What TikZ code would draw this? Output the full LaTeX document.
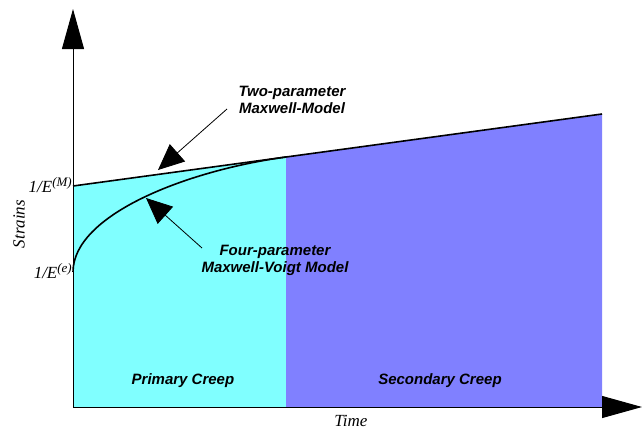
\documentclass[tikz,border=0pt]{standalone}
\usepackage{fontspec}
\setmainfont{Liberation Serif}
\newfontfamily\labfont{Liberation Sans}
\usetikzlibrary{arrows.meta}
\definecolor{primaryc}{HTML}{80FFFF}
\definecolor{secondaryc}{HTML}{8080FF}
% raised superscript in a larger size than \textsuperscript
\newcommand{\supidx}[1]{\raisebox{6pt}{\fontsize{13}{13}\selectfont #1}}
\begin{document}
\begin{tikzpicture}[x=1pt,y=-1pt,
  axis/.style={line width=1pt,-{Triangle[length=40pt,width=22pt]}},
  pointer/.style={line width=0.8pt,-{Triangle[length=26pt,width=23pt]}},
  curveline/.style={line width=1.6pt},
  modeltext/.style={font=\labfont\bfseries\itshape\fontsize{15}{17}\selectfont,align=center,inner sep=0pt},
  serifit/.style={font=\itshape\fontsize{17}{19}\selectfont,inner sep=0pt}]
\useasboundingbox (0,0) rectangle (642,429);
% key points
\coordinate (O) at (73,407);
\coordinate (EM) at (73,186);
\coordinate (Ee) at (73,272);
\coordinate (J) at (286,157);
\coordinate (R) at (602,114);
\coordinate (Jb) at (286,407);
\coordinate (Rb) at (602,407);
\coordinate (Ytip) at (73,9);
\coordinate (Xtip) at (642,407);
% creep regions
\fill[primaryc] (O) -- (EM) -- (J) -- (Jb) -- cycle;
\fill[secondaryc] (Jb) -- (J) -- (R) -- (Rb) -- cycle;
% axes
\draw[axis] (O) -- (Ytip);
\draw[axis] (O) -- (Xtip);
% model responses
\draw[curveline] (EM) -- (J) -- (R);
\draw[curveline] (Ee) .. controls (73,215) and (186,170.6) .. (J);
% axis labels
\node[serifit,anchor=base east] (lm) at (72,192) {1/E\supidx{(M)}};
\node[serifit,anchor=base east] (le) at (72,278) {1/E\supidx{(e)}};
\node[serifit,rotate=90] (strains) at (19,224) {Strains};
\node[serifit] (time) at (351,421) {Time};
% region labels
\node[modeltext] (prim) at (183,381) {Primary Creep};
\node[modeltext] (sec) at (440,381) {Secondary Creep};
% model labels with pointers
\node[modeltext] (two) at (292,100) {Two-parameter\\Maxwell-Model};
\node[modeltext] (four) at (275,260) {Four-parameter\\Maxwell-Voigt Model};
\coordinate (p1) at (158,170);
\coordinate (p2) at (146,198);
\coordinate (t1) at (227,109);
\coordinate (t2) at (202,248);
\draw[pointer] (t1) -- (p1);
\draw[pointer] (t2) -- (p2);
\end{tikzpicture}
\end{document}
